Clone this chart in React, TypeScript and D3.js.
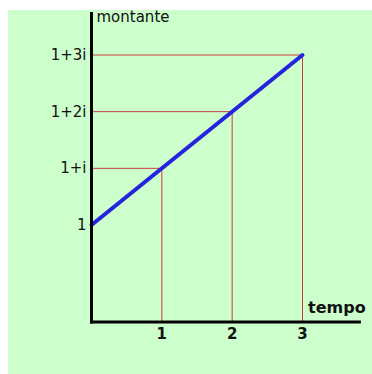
import React from "react";
import * as d3 from "d3";

// Compound interest: amount after each period, written as 1 + k·i
const periods = [1, 2, 3];
const periodLabels = ["1", "2", "3"];
const amountSteps = [0, 1, 2, 3];
const amountLabels = ["1", "1+i", "1+2i", "1+3i"];
const yAxisTitle = "montante";
const xAxisTitle = "tempo";

const W = 372;
const H = 374;

export default function App() {
  const x = d3.scaleLinear().domain([0, 3]).range([91.5, 302.5]);
  const y = d3.scaleLinear().domain([0, 3]).range([225, 55]);
  const axisY = y(-1.71);
  const axisTop = y(3.76);
  const axisRight = x(3.83);

  const line = d3
    .line<number>()
    .x((k) => x(k))
    .y((k) => y(k));

  const font = "'DejaVu Sans', Verdana, sans-serif";

  return (
    <svg
      width={W}
      height={H}
      style={{ position: "absolute", left: 0, top: 0 }}
      fontFamily={font}
    >
      <rect x={8} y={10} width={W - 8} height={H - 10} fill="#ccffcc" />

      {/* guide lines from each period to the curve and across to the axis */}
      {periods.map((p) => (
        <g key={p} stroke="#cc3b3b" strokeWidth={1}>
          <line x1={x(0)} x2={x(p)} y1={y(p)} y2={y(p)} />
          <line x1={x(p)} x2={x(p)} y1={y(p)} y2={axisY} />
        </g>
      ))}

      {/* amount growth */}
      <path
        d={line([0, 3]) ?? ""}
        stroke="#2424dc"
        strokeWidth={4}
        fill="none"
        strokeLinecap="round"
      />

      {/* axes */}
      <line x1={x(0)} x2={x(0)} y1={axisTop} y2={axisY + 1.5} stroke="#000" strokeWidth={3} />
      <line x1={x(0) - 1.5} x2={axisRight} y1={axisY} y2={axisY} stroke="#000" strokeWidth={3} />

      {amountSteps.map((k, i) => (
        <text
          key={k}
          x={x(0) - 5}
          y={y(k) + 5}
          textAnchor="end"
          fontSize={15}
          fill="#111"
        >
          {amountLabels[i]}
        </text>
      ))}

      {periods.map((p, i) => (
        <text
          key={p}
          x={x(p)}
          y={axisY + 17}
          textAnchor="middle"
          fontSize={15}
          fontWeight="bold"
          fill="#111"
        >
          {periodLabels[i]}
        </text>
      ))}

      <text x={x(0) + 5} y={22} fontSize={15} fill="#111">
        {yAxisTitle}
      </text>
      <text x={308} y={313} fontSize={16} fontWeight="bold" fill="#111">
        {xAxisTitle}
      </text>
    </svg>
  );
}
